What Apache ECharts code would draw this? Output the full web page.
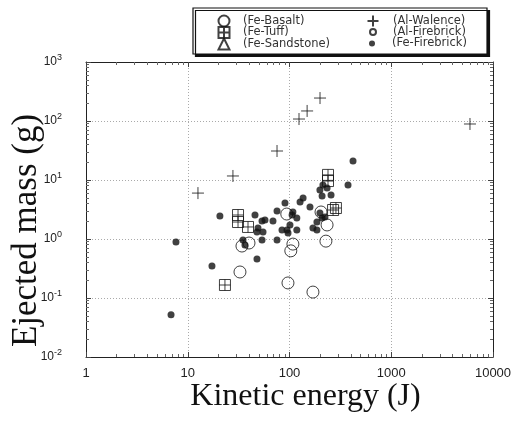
<!DOCTYPE html>
<html>
<head>
<meta charset="utf-8">
<script src="https://cdn.jsdelivr.net/npm/echarts@6/dist/echarts.min.js"></script>
<style>
html,body{margin:0;padding:0;background:#fff;}
#chart{width:519px;height:422px;}
</style>
</head>
<body>
<div id="chart"></div>
<script>
// ---- Data (Kinetic energy J, Ejected mass g) ----
const seriesNames = ['(Fe-Basalt)', '(Fe-Tuff)', '(Fe-Sandstone)', '(Al-Walence)', '(Al-Firebrick)', '(Fe-Firebrick)'];
const xTickLabels = ['1', '10', '100', '1000', '10000'];
const yTickExponents = [-2, -1, 0, 1, 2, 3];

const feBasalt = [[32.6,0.276],[96.6,0.18],[170,0.126],[228,0.92],[234,1.73],[34.1,0.76],[40,0.855],[103,0.63],[108,0.82],[204,2.87],[94,2.65]];
const feTuff = [[23.2,0.166],[31.2,2.55],[31.2,1.94],[39.1,1.6],[239,12.2],[239,9.6],[268,3.1],[286,3.35]];
const feSandstone = [];
const alWalence = [[12.6,6.0],[27.8,11.7],[75.4,31],[124,108],[149,148],[199.5,245],[5940,89]];
const alFirebrick = [];
const feFirebrick = [[6.85,0.052],[7.66,0.89],[17.3,0.35],[20.7,2.45],[47.9,0.46],[421,21],[376,8.2],
  [34.9,0.96],[45.8,2.55],[53.7,2.02],[49.0,1.54],[54.9,1.32],[53.7,0.96],[47.9,1.32],
  [68.8,2.02],[75.4,0.96],[75.4,2.98],[90.3,4.07],[84.4,1.42],[101,1.73],[96.7,1.26],[106,2.55],
  [118,2.27],[108,2.87],[127,4.24],[136,4.95],[159,3.49],[170,1.54],[186,1.42],[199,6.77],
  [209,5.35],[213,8.22],[234,7.32],[256,5.57],[199,2.76],[209,2.27],[186,1.94],[223,2.36],
  [94.5,1.42],[118,1.42],[57.4,2.10],[36.5,0.79]];

const SANS = 'Liberation Sans, Arial, sans-serif';
const SERIF = 'Liberation Serif, Times New Roman, serif';
const LEG = 'DejaVu Sans, sans-serif';

const PLUS = 'path://M5,0 L5,10 M0,5 L10,5';
const TUFF = 'path://M0,0 L10,0 L10,10 L0,10 Z M5,0 L5,10 M0,5 L10,5';

const hollow = {color: 'rgba(255,255,255,0)', borderColor: '#111', borderWidth: 1};

function legendItem(name, cx, cy, w, textStart) {
  return {
    data: [name], orient: 'vertical', selectedMode: false,
    left: cx - w / 2, top: cy - Math.max(w, 11) / 2,
    itemWidth: w, itemHeight: w, padding: 0,
    textStyle: {fontFamily: LEG, fontSize: 11.5, lineHeight: 11, color: '#333',
      padding: [0, 0, 0, textStart - (cx + w / 2 + 5)]}
  };
}

const chart = echarts.init(document.getElementById('chart'), null, {renderer: 'canvas'});

const baseX = {type: 'log', logBase: 10, min: 1, max: 10000, gridIndex: 0};
const baseY = {type: 'log', logBase: 10, min: 0.01, max: 1000, gridIndex: 0};
const noLabel = {show: false};
const minor = {show: true, splitNumber: 9, length: 3, lineStyle: {color: '#666'}};

chart.setOption({
  animation: false,
  backgroundColor: '#fff',
  grid: {left: 86, right: 26, top: 62, bottom: 65, containLabel: false, outerBoundsMode: 'none'},
  graphic: [{
    type: 'rect', z: 50, shape: {x: 193, y: 8, width: 294, height: 46},
    style: {fill: '#fff', stroke: '#111', lineWidth: 1.2, shadowColor: '#111', shadowBlur: 0, shadowOffsetX: 2.5, shadowOffsetY: 2.5}
  }],
  legend: [
    legendItem(seriesNames[0], 223, 20, 11, 242),
    legendItem(seriesNames[1], 223, 31.5, 11, 242),
    legendItem(seriesNames[2], 223, 43, 11, 242),
    legendItem(seriesNames[3], 372, 20, 11, 392),
    legendItem(seriesNames[4], 372, 31.5, 6, 392),
    legendItem(seriesNames[5], 372, 43, 6, 392)
  ].map(l => Object.assign(l, {z: 60})),
  xAxis: [
    Object.assign({}, baseX, {
      position: 'bottom',
      name: 'Kinetic energy (J)', nameLocation: 'middle', nameGap: 24, nameMoveOverlap: false,
      nameTextStyle: {fontFamily: SERIF, fontSize: 32, color: '#111', padding: [0, 0, 0, 32]},
      axisLine: {show: true, lineStyle: {color: '#222', width: 1}},
      axisTick: {show: true, inside: true, length: 5, lineStyle: {color: '#444'}},
      minorTick: minor,
      axisLabel: {margin: 10, fontFamily: SANS, fontSize: 13, color: '#222',
        formatter: v => xTickLabels[Math.round(Math.log10(v))]},
      splitLine: {show: true, lineStyle: {color: '#aaa', type: [1, 2], width: 1}}
    }),
    Object.assign({}, baseX, {
      position: 'top',
      axisLine: {show: true, lineStyle: {color: '#222', width: 1}},
      axisTick: {show: true, inside: true, length: 5, lineStyle: {color: '#444'}},
      minorTick: minor,
      axisLabel: noLabel, splitLine: {show: false}
    })
  ],
  yAxis: [
    Object.assign({}, baseY, {
      position: 'left',
      name: 'Ejected mass (g)', nameLocation: 'middle', nameGap: 42, nameMoveOverlap: false,
      nameTextStyle: {fontFamily: SERIF, fontSize: 35, color: '#111', padding: [0, 42, 0, 0]},
      axisLine: {show: true, lineStyle: {color: '#222', width: 1}},
      axisTick: {show: true, inside: true, length: 5, lineStyle: {color: '#444'}},
      minorTick: minor,
      axisLabel: {margin: 24, fontFamily: SANS, fontSize: 12, color: '#222',
        formatter: v => '{b|10}{s|' + String(Math.round(Math.log10(v))) + '}',
        rich: {b: {fontFamily: SANS, fontSize: 12, color: '#222'},
               s: {fontFamily: SANS, fontSize: 9, color: '#222', padding: [0, 0, 8, 0]}}},
      splitLine: {show: true, lineStyle: {color: '#aaa', type: [1, 2], width: 1}}
    }),
    Object.assign({}, baseY, {
      position: 'right',
      axisLine: {show: true, lineStyle: {color: '#222', width: 1}},
      axisTick: {show: true, inside: true, length: 5, lineStyle: {color: '#444'}},
      minorTick: minor,
      axisLabel: noLabel, splitLine: {show: false}
    })
  ],
  series: [
    {name: seriesNames[0], type: 'scatter', data: feBasalt, symbol: 'circle', symbolSize: 12, itemStyle: hollow},
    {name: seriesNames[1], type: 'scatter', data: feTuff, symbol: TUFF, symbolSize: 11, itemStyle: hollow},
    {name: seriesNames[2], type: 'scatter', data: feSandstone, symbol: 'triangle', symbolSize: 11, itemStyle: hollow},
    {name: seriesNames[3], type: 'scatter', data: alWalence, symbol: PLUS, symbolSize: 12, itemStyle: hollow},
    {name: seriesNames[4], type: 'scatter', data: alFirebrick, symbol: 'circle', symbolSize: 5, itemStyle: hollow},
    {name: seriesNames[5], type: 'scatter', data: feFirebrick, symbol: 'circle', symbolSize: 7, itemStyle: {color: '#111'}}
  ].map(s => Object.assign(s, {xAxisIndex: 0, yAxisIndex: 0, emphasis: {disabled: true}}))
});
</script>
</body>
</html>
